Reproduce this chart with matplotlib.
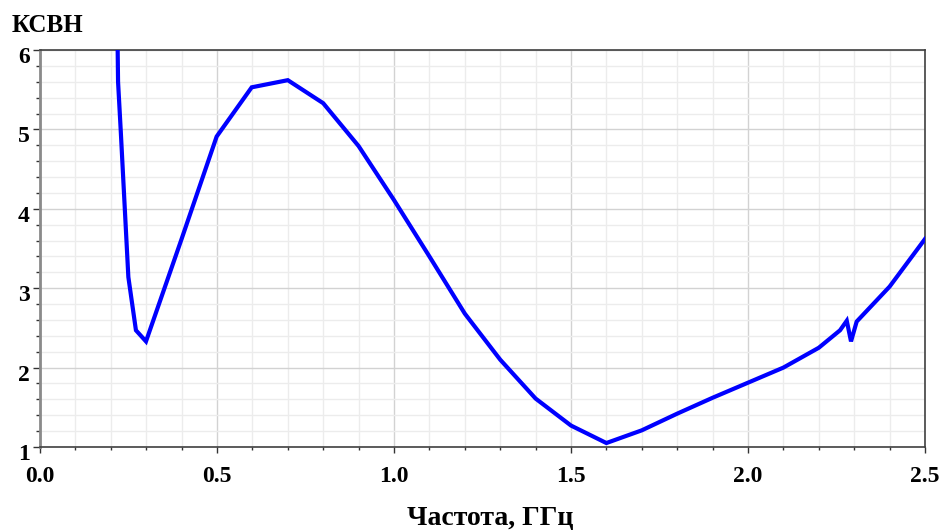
import numpy as np
import matplotlib
matplotlib.use("Agg")
import matplotlib.pyplot as plt
import matplotlib.transforms as mtransforms
from matplotlib.ticker import MultipleLocator, FixedLocator

# Frequency sweep (GHz) and measured VSWR
freq = [0.2194, 0.2205, 0.228, 0.2496, 0.271, 0.2994, 0.40, 0.499, 0.598, 0.70,
        0.80, 0.90, 1.00, 1.10, 1.20, 1.30, 1.40, 1.50, 1.60, 1.70,
        1.80, 1.90, 2.00, 2.10, 2.20, 2.26, 2.279, 2.291, 2.307, 2.40, 2.50]
vswr = [6.00, 5.60, 4.99, 3.14, 2.47, 2.33, 3.62, 4.91, 5.53, 5.62,
        5.33, 4.79, 4.11, 3.40, 2.68, 2.10, 1.61, 1.27, 1.05, 1.21,
        1.42, 1.62, 1.81, 2.00, 2.25, 2.47, 2.59, 2.33, 2.58, 3.02, 3.62]

x_ticks = [0.0, 0.5, 1.0, 1.5, 2.0, 2.5]
x_tick_labels = ["0.0", "0.5", "1.0", "1.5", "2.0", "2.5"]
y_ticks = [1, 2, 3, 4, 5, 6]
y_tick_labels = ["1", "2", "3", "4", "5", "6"]

plt.rcParams["font.family"] = ["Liberation Serif", "DejaVu Serif"]

fig = plt.figure(figsize=(9.43, 5.32), dpi=100)
W, H = 943, 532
left, right, top, bottom = 40, 925, 50, 447
ax = fig.add_axes([left / W, 1 - bottom / H, (right - left) / W, (bottom - top) / H])

ax.set_xlim(0, 2.5)
ax.set_ylim(1, 6)

# grid: light minor lines, slightly darker major lines
ax.xaxis.set_minor_locator(MultipleLocator(0.1))
ax.yaxis.set_minor_locator(MultipleLocator(0.2))
ax.xaxis.set_major_locator(FixedLocator(x_ticks))
ax.yaxis.set_major_locator(FixedLocator(y_ticks))
ax.grid(which="minor", color="#ececec", linewidth=1.0)
ax.grid(which="major", color="#d2d2d2", linewidth=1.0)
ax.set_axisbelow(True)

ax.plot(freq, vswr, color="#0000ff", linewidth=3.0, solid_joinstyle="miter",
        clip_on=True, zorder=3)

ax.set_xticks(x_ticks)
ax.set_xticklabels(x_tick_labels)
ax.set_yticks(y_ticks)
ax.set_yticklabels(y_tick_labels)
ax.tick_params(axis="x", which="major", length=4.3, width=1, color="#333333",
               labelsize=17, pad=9.4)
ax.tick_params(axis="x", which="minor", length=2.2, width=1, color="#333333")
ax.tick_params(axis="y", which="major", length=5.0, width=1, color="#333333",
               labelsize=17, pad=2.5)
ax.tick_params(axis="y", which="minor", length=2.9, width=1, color="#333333")
for lab in ax.get_xticklabels() + ax.get_yticklabels():
    lab.set_fontweight("bold")

# value labels on the vertical axis sit slightly below their ticks
shift = mtransforms.ScaledTranslation(0, -5 / 100, fig.dpi_scale_trans)
for lab in ax.get_yticklabels():
    lab.set_transform(lab.get_transform() + shift)

for side in ["top", "bottom", "right"]:
    ax.spines[side].set_color("#404040")
    ax.spines[side].set_linewidth(1.2)
ax.spines["left"].set_color("#8a8a8a")
ax.spines["left"].set_linewidth(2.0)

fig.text(12 / W, 1 - 31.5 / H, "КСВН", fontsize=18, fontweight="bold",
         ha="left", va="baseline")
fig.text(490 / W, 1 - 525.5 / H, "Частота, ГГц", fontsize=20, fontweight="bold",
         ha="center", va="baseline")

fig.savefig("out.png", dpi=100, facecolor="white")
